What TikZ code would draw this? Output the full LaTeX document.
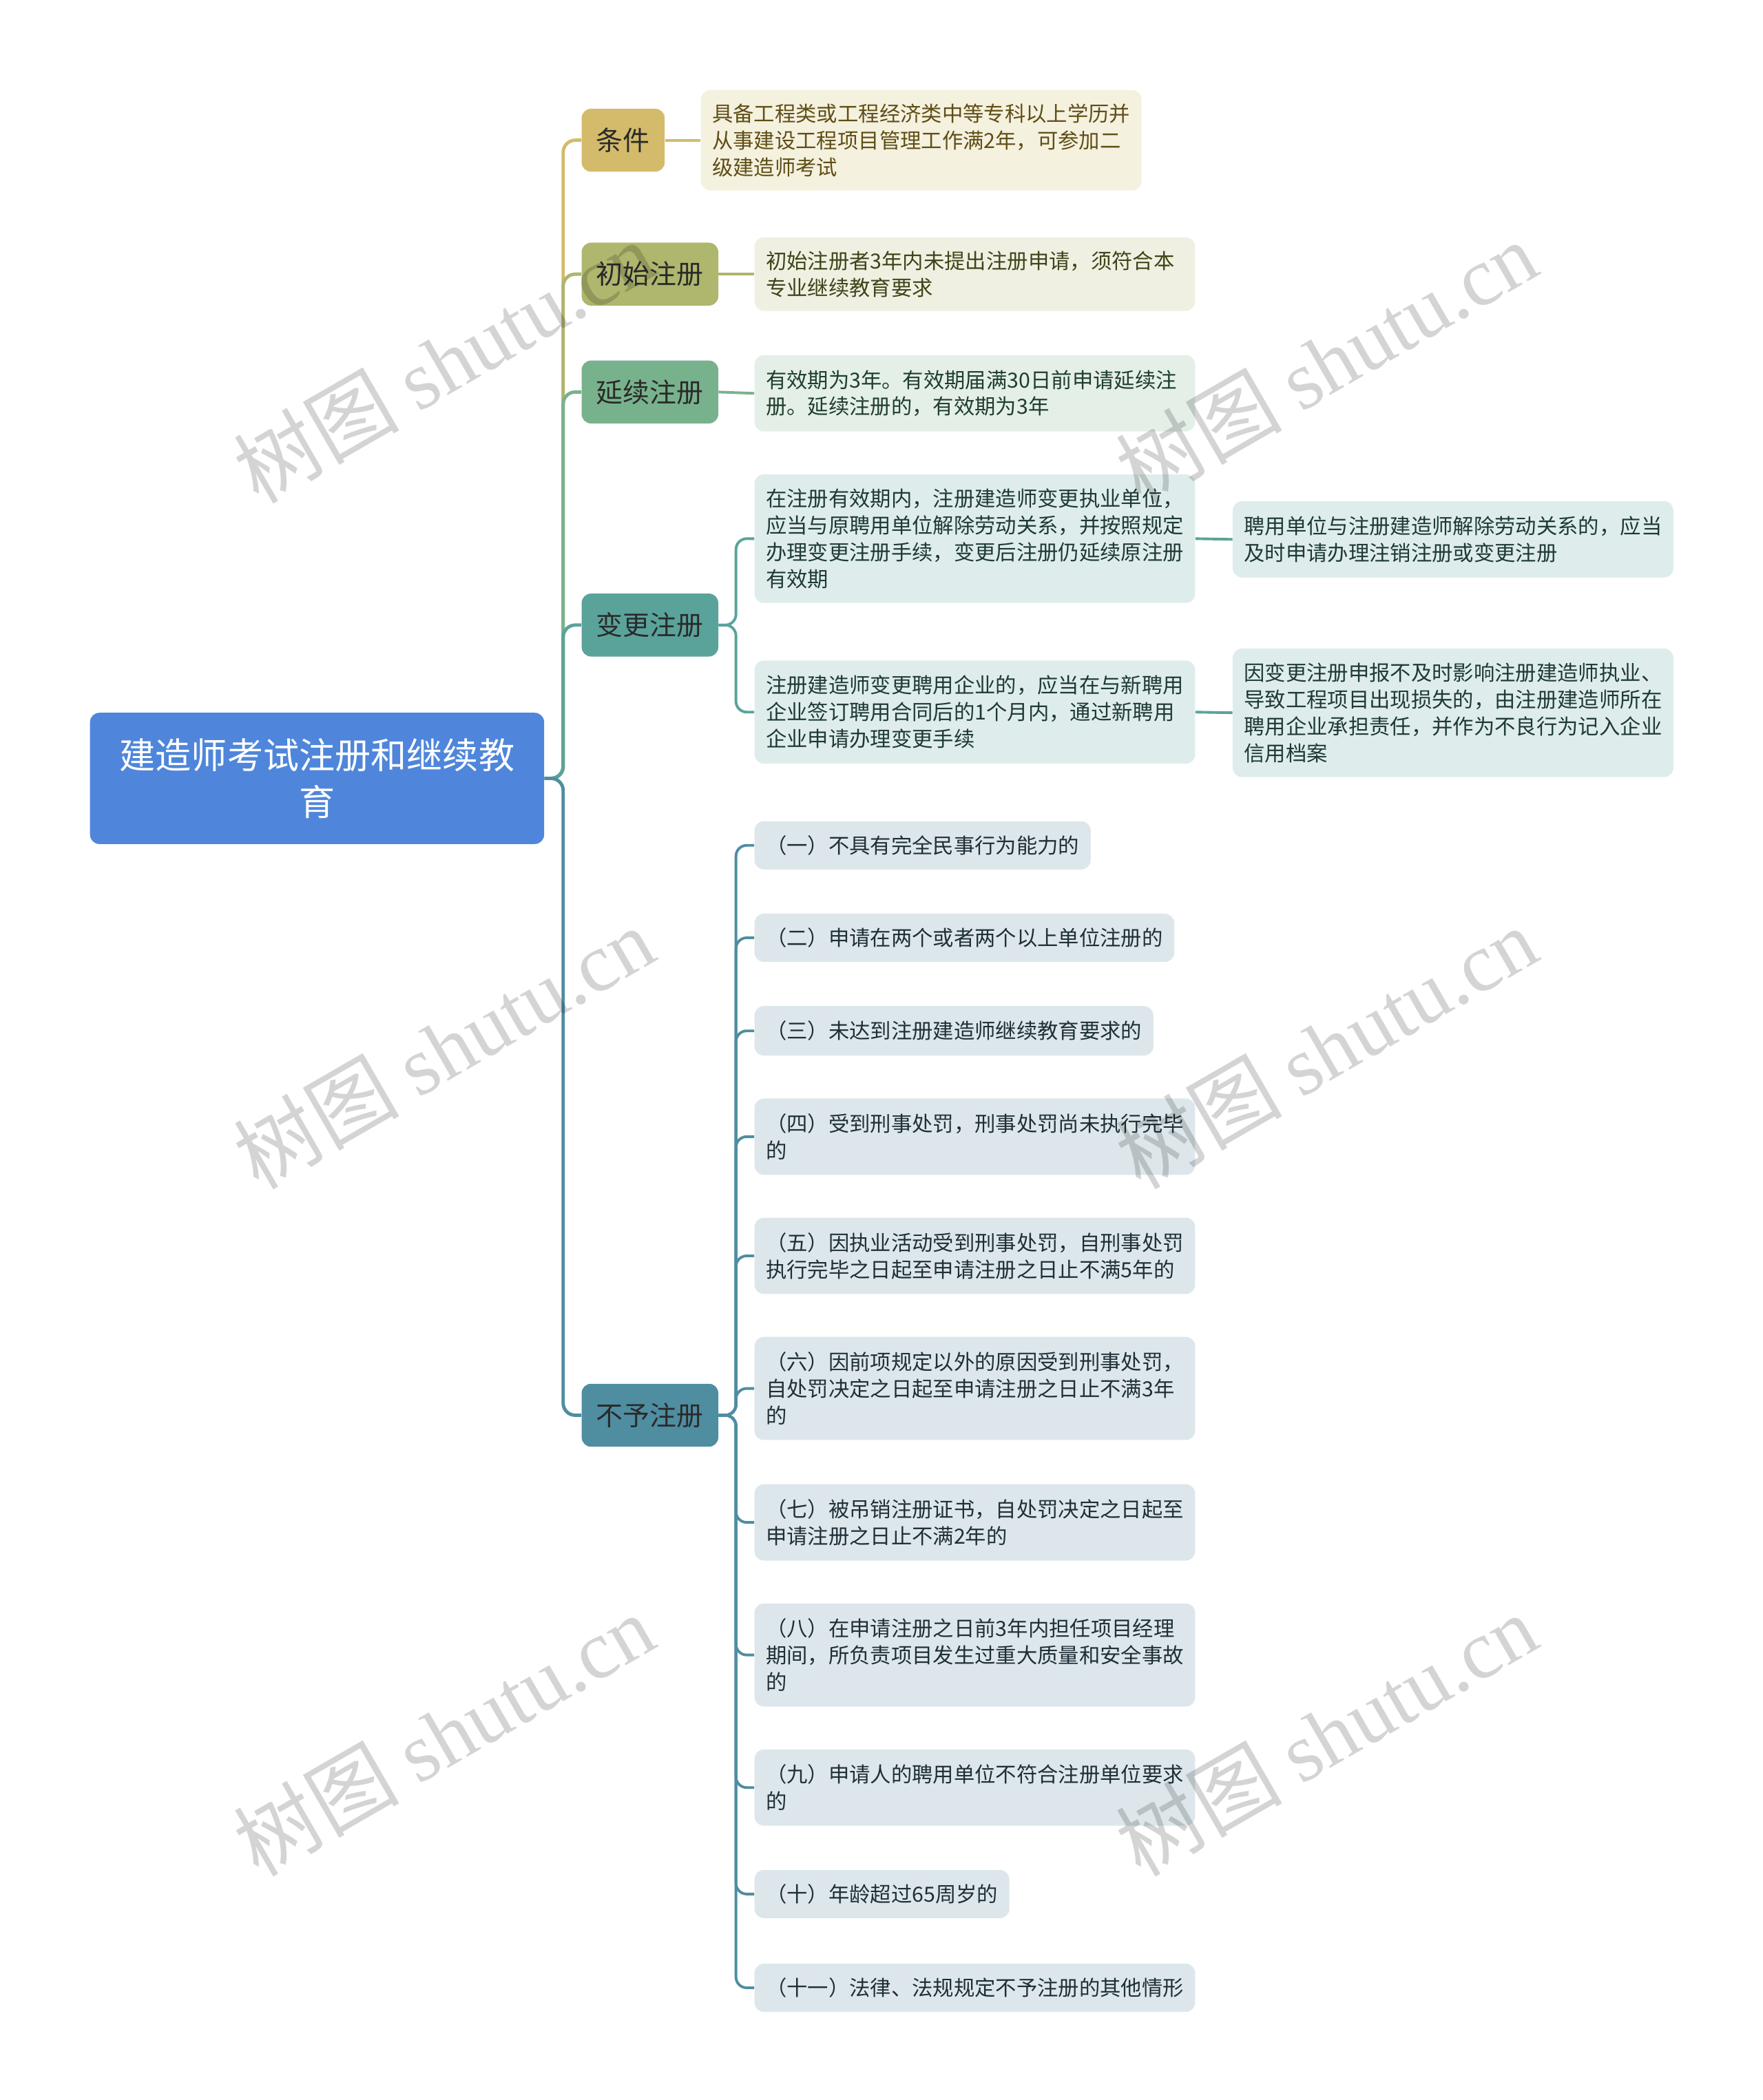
\documentclass[tikz,border=0pt]{standalone}
\usepackage{fontspec}
\setmainfont{Noto Sans CJK SC}
\newfontfamily\wmfont{Liberation Serif}
\usepackage{tikz}

\definecolor{rootblue}{HTML}{4F86DB}
\definecolor{condgold}{HTML}{D3BB6B}
\definecolor{condfill}{HTML}{F5F1DF}
\definecolor{condtext}{HTML}{5F4E16}
\definecolor{initolive}{HTML}{AFB66D}
\definecolor{initfill}{HTML}{F0F0E2}
\definecolor{inittext}{HTML}{3D4519}
\definecolor{renewgreen}{HTML}{78B28C}
\definecolor{renewfill}{HTML}{E4EFE8}
\definecolor{renewtext}{HTML}{1F3E2B}
\definecolor{changeteal}{HTML}{5AA39A}
\definecolor{changefill}{HTML}{DEEDEB}
\definecolor{changetext}{HTML}{1E3936}
\definecolor{denyblue}{HTML}{4F8DA1}
\definecolor{denyfill}{HTML}{DDE7EB}
\definecolor{denytext}{HTML}{1F2F36}
\definecolor{topictext}{HTML}{2A2A2A}

\begin{document}
\begin{tikzpicture}[x=1pt,y=-1pt,
  rootbox/.style={rectangle,rounded corners=7pt,fill=rootblue,text=white,align=center,
    font=\fontsize{26.8}{35}\selectfont,inner sep=0pt,minimum width=339pt,minimum height=98pt,anchor=north west},
  topic/.style={rectangle,rounded corners=7pt,fill=#1,text=topictext,
    font=\fontsize{20}{24}\selectfont,inner xsep=11pt,inner ysep=0pt,minimum height=47pt,anchor=north west},
  leaf/.style={rectangle,rounded corners=7pt,align=left,inner xsep=8.5pt,inner ysep=0pt,
    font=\fontsize{15.6}{20}\selectfont,anchor=north west},
  wide/.style={leaf,text width=312pt},
  tall/.style={minimum height=#1pt},
  condleaf/.style={fill=condfill,text=condtext},
  initleaf/.style={fill=initfill,text=inittext},
  renewleaf/.style={fill=renewfill,text=renewtext},
  changeleaf/.style={fill=changefill,text=changetext},
  denyleaf/.style={fill=denyfill,text=denytext},
  link/.style={draw=#1,line width=2.5pt,rounded corners=9pt},
  sublink/.style={draw=#1,line width=2pt,rounded corners=8pt},
  wmark/.style={rotate=30,text=black,opacity=0.17,font=\fontsize{62}{62}\selectfont,inner sep=0pt}]
  \useasboundingbox (0,0) rectangle (1316,1568);

  % root and main topics
  \node[rootbox] (root) at (67,532) {建造师考试注册和继续教\\育};
  \node[topic=condgold] (cond) at (434,81) {条件};
  \node[topic=initolive] (init) at (434,181) {初始注册};
  \node[topic=renewgreen] (renew) at (434,269) {延续注册};
  \node[topic=changeteal] (change) at (434,443) {变更注册};
  \node[topic=denyblue] (deny) at (434,1033) {不予注册};

  % details
  \node[wide,condleaf,tall=75] (condA) at (523,67) {具备工程类或工程经济类中等专科以上学历并\\从事建设工程项目管理工作满2年，可参加二\\级建造师考试};
  \node[wide,initleaf,tall=55] (initA) at (563,177) {初始注册者3年内未提出注册申请，须符合本\\专业继续教育要求};
  \node[wide,renewleaf,tall=57] (renewA) at (563,265) {有效期为3年。有效期届满30日前申请延续注\\册。延续注册的，有效期为3年};
  \node[wide,changeleaf,tall=96] (changeA) at (563,354) {在注册有效期内，注册建造师变更执业单位，\\应当与原聘用单位解除劳动关系，并按照规定\\办理变更注册手续，变更后注册仍延续原注册\\有效期};
  \node[wide,changeleaf,tall=77] (changeB) at (563,493) {注册建造师变更聘用企业的，应当在与新聘用\\企业签订聘用合同后的1个月内，通过新聘用\\企业申请办理变更手续};
  \node[wide,changeleaf,tall=57] (changeA1) at (920,374) {聘用单位与注册建造师解除劳动关系的，应当\\及时申请办理注销注册或变更注册};
  \node[wide,changeleaf,tall=96] (changeB1) at (920,484) {因变更注册申报不及时影响注册建造师执业、\\导致工程项目出现损失的，由注册建造师所在\\聘用企业承担责任，并作为不良行为记入企业\\信用档案};

  \node[leaf,denyleaf,tall=36] (deny1) at (563,613) {（一）不具有完全民事行为能力的};
  \node[leaf,denyleaf,tall=36] (deny2) at (563,682) {（二）申请在两个或者两个以上单位注册的};
  \node[leaf,denyleaf,tall=37] (deny3) at (563,751) {（三）未达到注册建造师继续教育要求的};
  \node[wide,denyleaf,tall=57] (deny4) at (563,820) {（四）受到刑事处罚，刑事处罚尚未执行完毕\\的};
  \node[wide,denyleaf,tall=57] (deny5) at (563,909) {（五）因执业活动受到刑事处罚，自刑事处罚\\执行完毕之日起至申请注册之日止不满5年的};
  \node[wide,denyleaf,tall=77] (deny6) at (563,998) {（六）因前项规定以外的原因受到刑事处罚，\\自处罚决定之日起至申请注册之日止不满3年\\的};
  \node[wide,denyleaf,tall=57] (deny7) at (563,1108) {（七）被吊销注册证书，自处罚决定之日起至\\申请注册之日止不满2年的};
  \node[wide,denyleaf,tall=77] (deny8) at (563,1197) {（八）在申请注册之日前3年内担任项目经理\\期间，所负责项目发生过重大质量和安全事故\\的};
  \node[wide,denyleaf,tall=57] (deny9) at (563,1306) {（九）申请人的聘用单位不符合注册单位要求\\的};
  \node[leaf,denyleaf,tall=36] (deny10) at (563,1396) {（十）年龄超过65周岁的};
  \node[wide,denyleaf,tall=36] (deny11) at (563,1466) {（十一）法律、法规规定不予注册的其他情形};

  % connectors
  \draw[link=condgold] (root.east) -- ++(14,0) |- (cond.west);
  \draw[link=initolive] (root.east) -- ++(14,0) |- (init.west);
  \draw[link=renewgreen] (root.east) -- ++(14,0) |- (renew.west);
  \draw[link=changeteal] (root.east) -- ++(14,0) |- (change.west);
  \draw[link=denyblue] (root.east) -- ++(14,0) |- (deny.west);

  \draw[sublink=condgold] (cond.east) -- (condA.west);
  \draw[sublink=initolive] (init.east) -- (initA.west);
  \draw[sublink=renewgreen] (renew.east) -- (renewA.west);
  \draw[sublink=changeteal] (change.east) -- ++(13,0) |- (changeA.west);
  \draw[sublink=changeteal] (change.east) -- ++(13,0) |- (changeB.west);
  \draw[sublink=changeteal] (changeA.east) -- (changeA1.west);
  \draw[sublink=changeteal] (changeB.east) -- (changeB1.west);
  \foreach \k in {1,...,11}
    \draw[sublink=denyblue] (deny.east) -- ++(13,0) |- (deny\k.west);

  % watermarks
  \foreach \wx/\wy [count=\w] in {331/270,990/270,331/782,990/782,331/1295,990/1295}
    \node[wmark] (wm\w) at (\wx,\wy) {树图 {\wmfont shutu.cn}};
\end{tikzpicture}
\end{document}
